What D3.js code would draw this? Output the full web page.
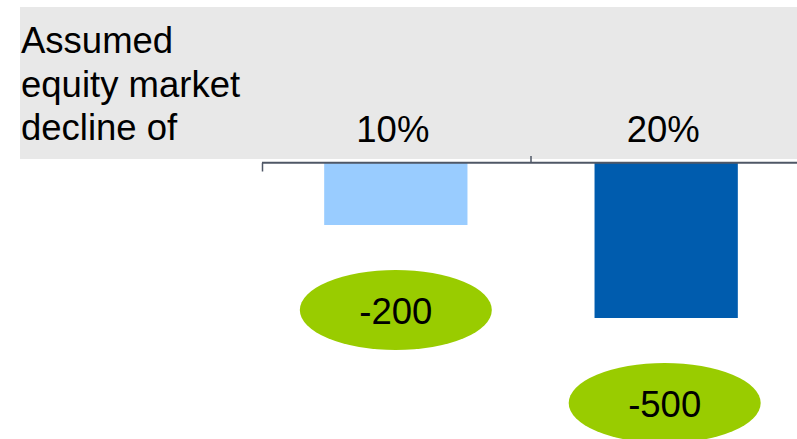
<!DOCTYPE html>
<html>
<head>
<meta charset="utf-8">
<script src="https://cdn.jsdelivr.net/npm/d3@7"></script>
<style>
  html, body { margin: 0; padding: 0; background: #fff; }
  svg { display: block; font-family: "Liberation Sans", Arial, sans-serif; }
</style>
</head>
<body>
<div id="chart"></div>
<script>
// 数据
const categories = ["10%", "20%"];
const values = [-200, -500];
const barColors = ["#99ccff", "#005cae"];
const titleLines = ["Assumed", "equity market", "decline of"];

const width = 797, height = 439;
const fontSize = 36.5;

const svg = d3.select('#chart').append('svg')
    .attr('width', width)
    .attr('height', height);

// 灰色表头背景
svg.append('rect')
    .attr('x', 20).attr('y', 7)
    .attr('width', width - 20).attr('height', 152)
    .attr('fill', '#e8e8e8');

// 标题文字
svg.append('text')
    .attr('font-size', fontSize)
    .attr('fill', '#000')
    .selectAll('tspan')
    .data(titleLines)
    .enter().append('tspan')
    .attr('x', 21)
    .attr('y', (d, i) => 53 + i * 43.5)
    .text(d => d);

// 比例尺
const x = d3.scaleBand()
    .domain(categories)
    .range([262, 800])
    .paddingInner(0.47)
    .paddingOuter(0.23);

const y = d3.scaleLinear()
    .domain([0, -500])
    .range([163, 318]);

const axisY = 162.8;

// 分类标签
svg.append('g')
    .selectAll('text')
    .data(categories)
    .enter().append('text')
    .attr('x', d => x(d) + x.bandwidth() / 2 - 3)
    .attr('y', 142)
    .attr('text-anchor', 'middle')
    .attr('font-size', fontSize)
    .attr('fill', '#000')
    .text(d => d);

// 柱子
svg.append('g')
    .selectAll('rect')
    .data(values)
    .enter().append('rect')
    .attr('x', (d, i) => x(categories[i]))
    .attr('y', y(0))
    .attr('width', x.bandwidth())
    .attr('height', d => y(d) - y(0))
    .attr('fill', (d, i) => barColors[i]);

// 坐标轴线和刻度
const axisColor = '#4f5766';
const midTick = x(categories[1]) - x.step() * x.paddingInner() / 2;
svg.append('line')
    .attr('x1', 262).attr('x2', width)
    .attr('y1', axisY).attr('y2', axisY)
    .attr('stroke', axisColor)
    .attr('stroke-width', 2);
svg.append('line')
    .attr('x1', 262.5).attr('x2', 262.5)
    .attr('y1', axisY).attr('y2', 171.5)
    .attr('stroke', axisColor)
    .attr('stroke-width', 1.5);
svg.append('line')
    .attr('x1', midTick).attr('x2', midTick)
    .attr('y1', 156).attr('y2', axisY)
    .attr('stroke', axisColor)
    .attr('stroke-width', 1.5);

// 绿色椭圆标签
const bubbles = svg.append('g')
    .selectAll('g')
    .data(values)
    .enter().append('g')
    .attr('transform', (d, i) =>
        `translate(${x(categories[i]) + x.bandwidth() / 2 - 1.5 * i},${y(d) + 85})`);

bubbles.append('ellipse')
    .attr('rx', 96)
    .attr('ry', 40)
    .attr('fill', '#99cc00');

bubbles.append('text')
    .attr('text-anchor', 'middle')
    .attr('y', 14)
    .attr('font-size', fontSize)
    .attr('fill', '#000')
    .text(d => d);
</script>
</body>
</html>
